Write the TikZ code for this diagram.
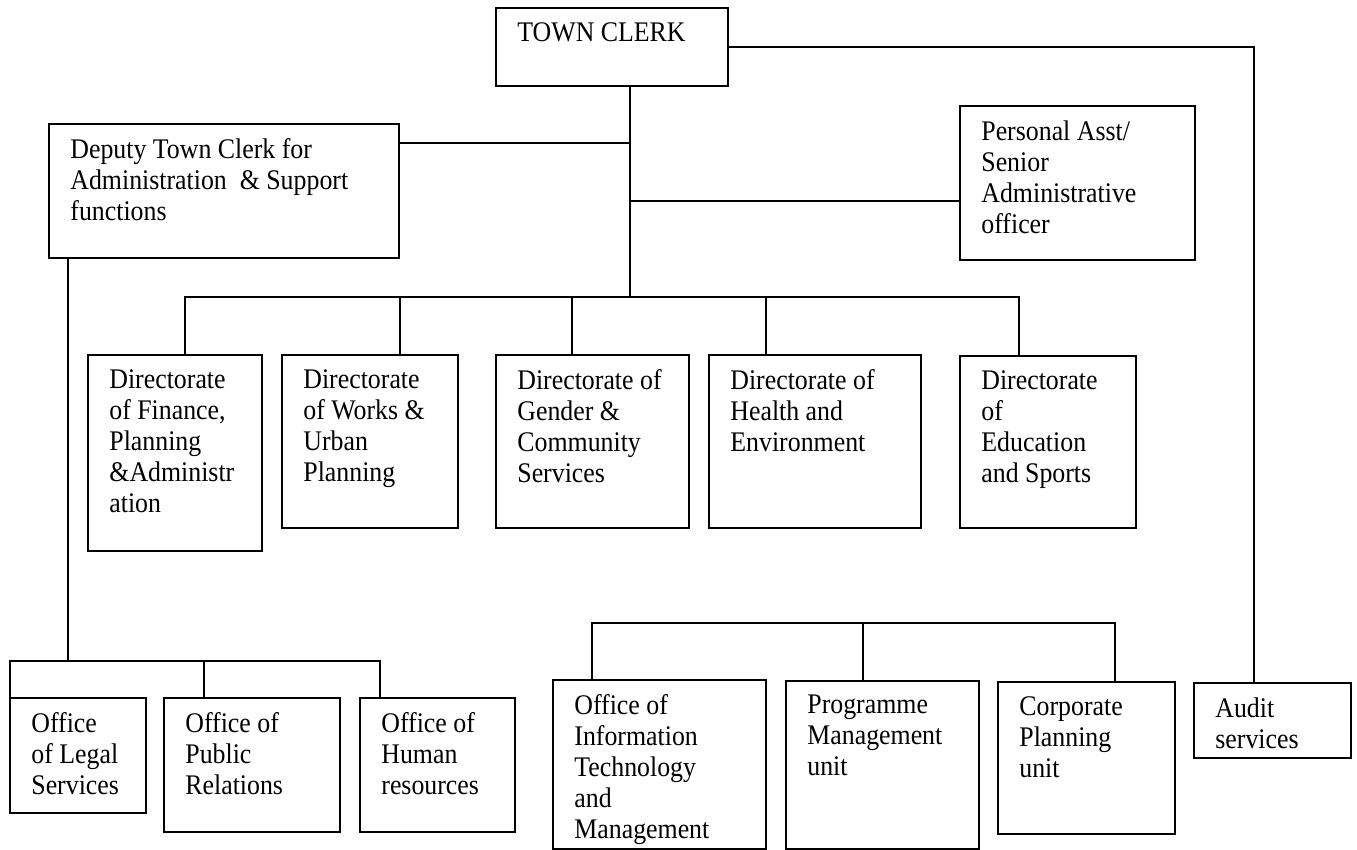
\documentclass[tikz,border=0pt]{standalone}
\usepackage{fontspec}
\setmainfont{Liberation Serif}[FakeStretch=0.91]
\usetikzlibrary{calc}

\tikzset{
  unit/.style={draw, line width=0.9pt, anchor=north west, inner sep=0pt, outer sep=0pt},
  unittext/.style={anchor=north west, align=left, inner xsep=10.5pt, inner ysep=7pt,
    font=\fontsize{14.2}{15.5}\selectfont},
  link/.style={line width=0.9pt, line cap=rect}
}

\begin{document}
\begin{tikzpicture}[x=0.5pt, y=-0.5pt]
\useasboundingbox (0,0) rectangle (1357,850);

% Top of the chart
\node[unit, minimum width=116pt, minimum height=39pt,
  label={[unittext]north west:TOWN CLERK}] (tc) at (496,8) {};
\node[unit, minimum width=175pt, minimum height=67pt,
  label={[unittext]north west:Deputy Town Clerk for\\Administration\ \ \& Support\\functions}] (dep) at (49,124) {};
\node[unit, minimum width=117.5pt, minimum height=77pt,
  label={[unittext]north west:Personal Asst/\\Senior\\Administrative\\officer}] (pa) at (960,106) {};

% Directorates
\node[unit, minimum width=87pt, minimum height=98pt,
  label={[unittext]north west:Directorate\\of Finance,\\Planning\\\&Administr\\ation}] (d1) at (88,355) {};
\node[unit, minimum width=88pt, minimum height=86.5pt,
  label={[unittext]north west:Directorate\\of Works \&\\Urban\\Planning}] (d2) at (282,355) {};
\node[unit, minimum width=96.5pt, minimum height=86.5pt,
  label={[unittext]north west:Directorate of\\Gender \&\\Community\\Services}] (d3) at (496,355) {};
\node[unit, minimum width=106pt, minimum height=86.5pt,
  label={[unittext]north west:Directorate of\\Health and\\Environment}] (d4) at (709,355) {};
\node[unit, minimum width=88pt, minimum height=86pt,
  label={[unittext]north west:Directorate\\of\\Education\\and Sports}] (d5) at (960,356) {};

% Offices under the deputy
\node[unit, minimum width=68pt, minimum height=57.5pt,
  label={[unittext]north west:Office\\of Legal\\Services}] (ls) at (10,698) {};
\node[unit, minimum width=88pt, minimum height=67pt,
  label={[unittext]north west:Office of\\Public\\Relations}] (pr) at (164,698) {};
\node[unit, minimum width=77.5pt, minimum height=67pt,
  label={[unittext]north west:Office of\\Human\\resources}] (hr) at (360,698) {};

% Units
\node[unit, minimum width=106.5pt, minimum height=84.5pt,
  label={[unittext]north west:Office of\\Information\\Technology\\and\\Management}] (it) at (553,680) {};
\node[unit, minimum width=96.5pt, minimum height=84pt,
  label={[unittext]north west:Programme\\Management\\unit}] (pm) at (786,681) {};
\node[unit, minimum width=88.5pt, minimum height=76pt,
  label={[unittext]north west:Corporate\\Planning\\unit}] (cp) at (998,682) {};
\node[unit, minimum width=78.5pt, minimum height=37.5pt,
  label={[unittext]north west:Audit\\services}] (au) at (1194,683) {};

% Lines from the town clerk
\coordinate (hub) at (630,297);
\coordinate (jdep) at (630,143);
\coordinate (jpa) at (630,201);
\coordinate (jau) at (1254,47);
\draw[link] (tc.south -| hub) -- (hub);
\draw[link] (jdep) -- (jdep -| dep.east);
\draw[link] (jpa) -- (jpa -| pa.west);
\draw[link] (tc.east) -- (jau) -- (jau |- au.north);

% Bar over the directorates
\foreach \x/\n in {185/d1,400/d2,572/d3,766/d4,1019/d5}{
  \coordinate (b\n) at (\x,297);
  \draw[link] (b\n) -- (b\n |- \n.north);
}
\draw[link] (bd1) -- (bd5);

% Bar over the offices
\coordinate (lb) at (68,661);
\draw[link] (dep.south -| lb) -- (lb);
\foreach \x/\n in {10/ls,204/pr,380/hr}{
  \coordinate (b\n) at (\x,661);
  \draw[link] (b\n) -- (b\n |- \n.north);
}
\draw[link] (bls) -- (bhr);

% Bar over the units
\foreach \x/\n in {592/it,863/pm,1115/cp}{
  \coordinate (b\n) at (\x,623);
  \draw[link] (b\n) -- (b\n |- \n.north);
}
\draw[link] (bit) -- (bcp);

\end{tikzpicture}
\end{document}
